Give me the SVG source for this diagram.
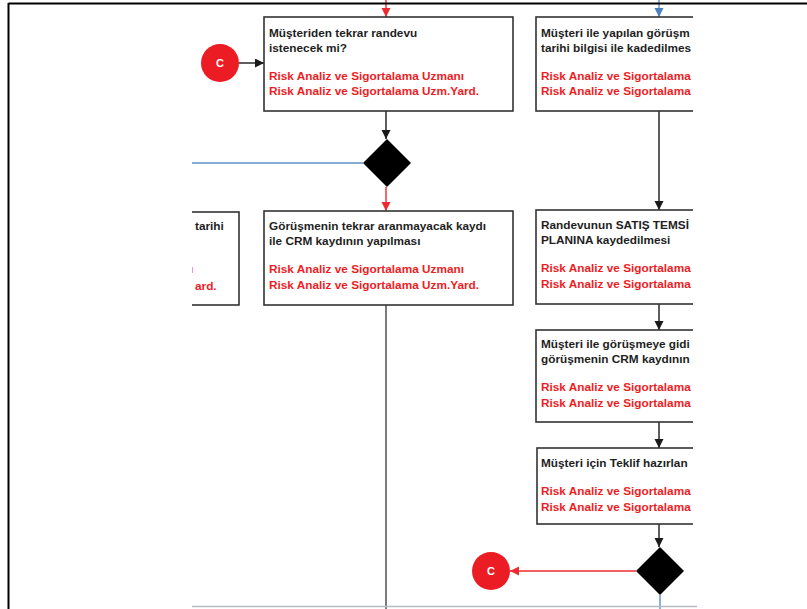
<svg xmlns="http://www.w3.org/2000/svg" width="807" height="609" viewBox="0 0 807 609">
<style>
.box{fill:#fff;stroke:#333;stroke-width:1.6}
.t{font-family:"Liberation Sans",Arial,sans-serif;font-weight:bold;font-size:11.8px;fill:#1e1e1e}
.r{fill:#ee1d25}
.ln{fill:none;stroke-width:1.4}
.k{stroke:#1a1a1a}
.rd{stroke:#ee2a30}
.bl{stroke:#5b8fc9}
.dia{fill:#000}
.circ{fill:#ec1c24}
.ct{font-family:"Liberation Sans",Arial,sans-serif;font-weight:bold;font-size:11px;fill:#fff;text-anchor:middle}
</style>
<defs>
<marker id="ak" markerUnits="userSpaceOnUse" markerWidth="10" markerHeight="10" refX="9" refY="4.5" orient="auto"><path d="M0,0 L9,4.5 L0,9 z" fill="#1a1a1a"/></marker>
<marker id="ar" markerUnits="userSpaceOnUse" markerWidth="10" markerHeight="10" refX="9" refY="4.5" orient="auto"><path d="M0,0 L9,4.5 L0,9 z" fill="#ee2a30"/></marker>
<marker id="ab" markerUnits="userSpaceOnUse" markerWidth="10" markerHeight="10" refX="9" refY="4.5" orient="auto"><path d="M0,0 L9,4.5 L0,9 z" fill="#4a7fc0"/></marker>
<clipPath id="cr"><rect x="0" y="0" width="693" height="609"/></clipPath>
<clipPath id="cl"><rect x="192" y="0" width="615" height="609"/></clipPath>
</defs>
<rect width="807" height="609" fill="#fff"/>

<g id="connectors">
<line class="ln rd" x1="386" y1="0" x2="386" y2="17" marker-end="url(#ar)"/>
<line class="ln k" x1="239" y1="63" x2="264" y2="63" marker-end="url(#ak)"/>
<line class="ln k" x1="386" y1="111" x2="386" y2="139" marker-end="url(#ak)"/>
<line class="ln bl" x1="363" y1="163" x2="192" y2="163"/>
<line class="ln rd" x1="386" y1="187" x2="386" y2="211" marker-end="url(#ar)"/>
<line class="ln" stroke="#444" x1="386" y1="305" x2="386" y2="609"/>
<line class="ln bl" x1="659" y1="0" x2="659" y2="17" marker-end="url(#ab)"/>
<line class="ln k" x1="659" y1="111" x2="659" y2="210" marker-end="url(#ak)"/>
<line class="ln k" x1="659" y1="304" x2="659" y2="330" marker-end="url(#ak)"/>
<line class="ln k" x1="659" y1="422" x2="659" y2="448" marker-end="url(#ak)"/>
<line class="ln k" x1="659" y1="524" x2="659" y2="547" marker-end="url(#ak)"/>
<line class="ln rd" x1="636" y1="571" x2="510" y2="571" marker-end="url(#ar)"/>
<line class="ln bl" x1="660" y1="595" x2="660" y2="609"/>
<line x1="192" y1="606.5" x2="697" y2="606.5" stroke="#b8bcc2" stroke-width="1.6"/>
</g>

<g id="c-top">
<circle class="circ" cx="220" cy="63" r="19"/>
<text class="ct" x="220" y="67">C</text>
</g>

<g id="box1">
<rect class="box" x="264" y="17" width="249" height="94"/>
<text class="t" x="269" y="37">Müşteriden tekrar randevu</text>
<text class="t" x="269" y="52">istenecek mi?</text>
<text class="t r" x="269" y="80">Risk Analiz ve Sigortalama Uzmanı</text>
<text class="t r" x="269" y="95">Risk Analiz ve Sigortalama Uzm.Yard.</text>
</g>

<g id="decision1">
<path class="dia" d="M387,139 L411,163 L387,187 L363,163 z"/>
</g>

<g id="box-left" clip-path="url(#cl)">
<rect class="box" x="100" y="212" width="139" height="93"/>
<text class="t" x="195" y="230">tarihi</text>
<text class="t r" x="190" y="273">ı</text>
<text class="t r" x="195" y="290">ard.</text>
</g>

<g id="box2">
<rect class="box" x="264" y="211" width="249" height="94"/>
<text class="t" x="269" y="230">Görüşmenin tekrar aranmayacak kaydı</text>
<text class="t" x="269" y="245">ile CRM kaydının yapılması</text>
<text class="t r" x="269" y="273">Risk Analiz ve Sigortalama Uzmanı</text>
<text class="t r" x="269" y="289">Risk Analiz ve Sigortalama Uzm.Yard.</text>
</g>

<g id="box3" clip-path="url(#cr)">
<rect class="box" x="536" y="17" width="300" height="94"/>
<text class="t" x="541" y="37">Müşteri ile yapılan görüşm</text>
<text class="t" x="541" y="52">tarihi bilgisi ile kadedilmes</text>
<text class="t r" x="541" y="80">Risk Analiz ve Sigortalama</text>
<text class="t r" x="541" y="95">Risk Analiz ve Sigortalama</text>
</g>

<g id="box4" clip-path="url(#cr)">
<rect class="box" x="536" y="210" width="300" height="94"/>
<text class="t" x="541" y="229">Randevunun SATIŞ TEMSİ</text>
<text class="t" x="541" y="244">PLANINA kaydedilmesi</text>
<text class="t r" x="541" y="272">Risk Analiz ve Sigortalama</text>
<text class="t r" x="541" y="288">Risk Analiz ve Sigortalama</text>
</g>

<g id="box5" clip-path="url(#cr)">
<rect class="box" x="536" y="330" width="300" height="92"/>
<text class="t" x="541" y="348">Müşteri ile görüşmeye gidi</text>
<text class="t" x="541" y="363">görüşmenin CRM kaydının</text>
<text class="t r" x="541" y="391">Risk Analiz ve Sigortalama</text>
<text class="t r" x="541" y="407">Risk Analiz ve Sigortalama</text>
</g>

<g id="box6" clip-path="url(#cr)">
<rect class="box" x="537" y="448" width="300" height="76"/>
<text class="t" x="541" y="467">Müşteri için Teklif hazırlan</text>
<text class="t r" x="541" y="495">Risk Analiz ve Sigortalama</text>
<text class="t r" x="541" y="511">Risk Analiz ve Sigortalama</text>
</g>

<g id="decision2">
<path class="dia" d="M660,547 L684,571 L660,595 L636,571 z"/>
</g>

<g id="c-bottom">
<circle class="circ" cx="491" cy="571" r="19"/>
<text class="ct" x="491" y="575">C</text>
</g>

<g id="frame">
<line x1="8.5" y1="3.5" x2="807" y2="3.5" stroke="#000" stroke-width="2"/>
<line x1="8.5" y1="3" x2="8.5" y2="609" stroke="#000" stroke-width="2"/>
</g>
</svg>
